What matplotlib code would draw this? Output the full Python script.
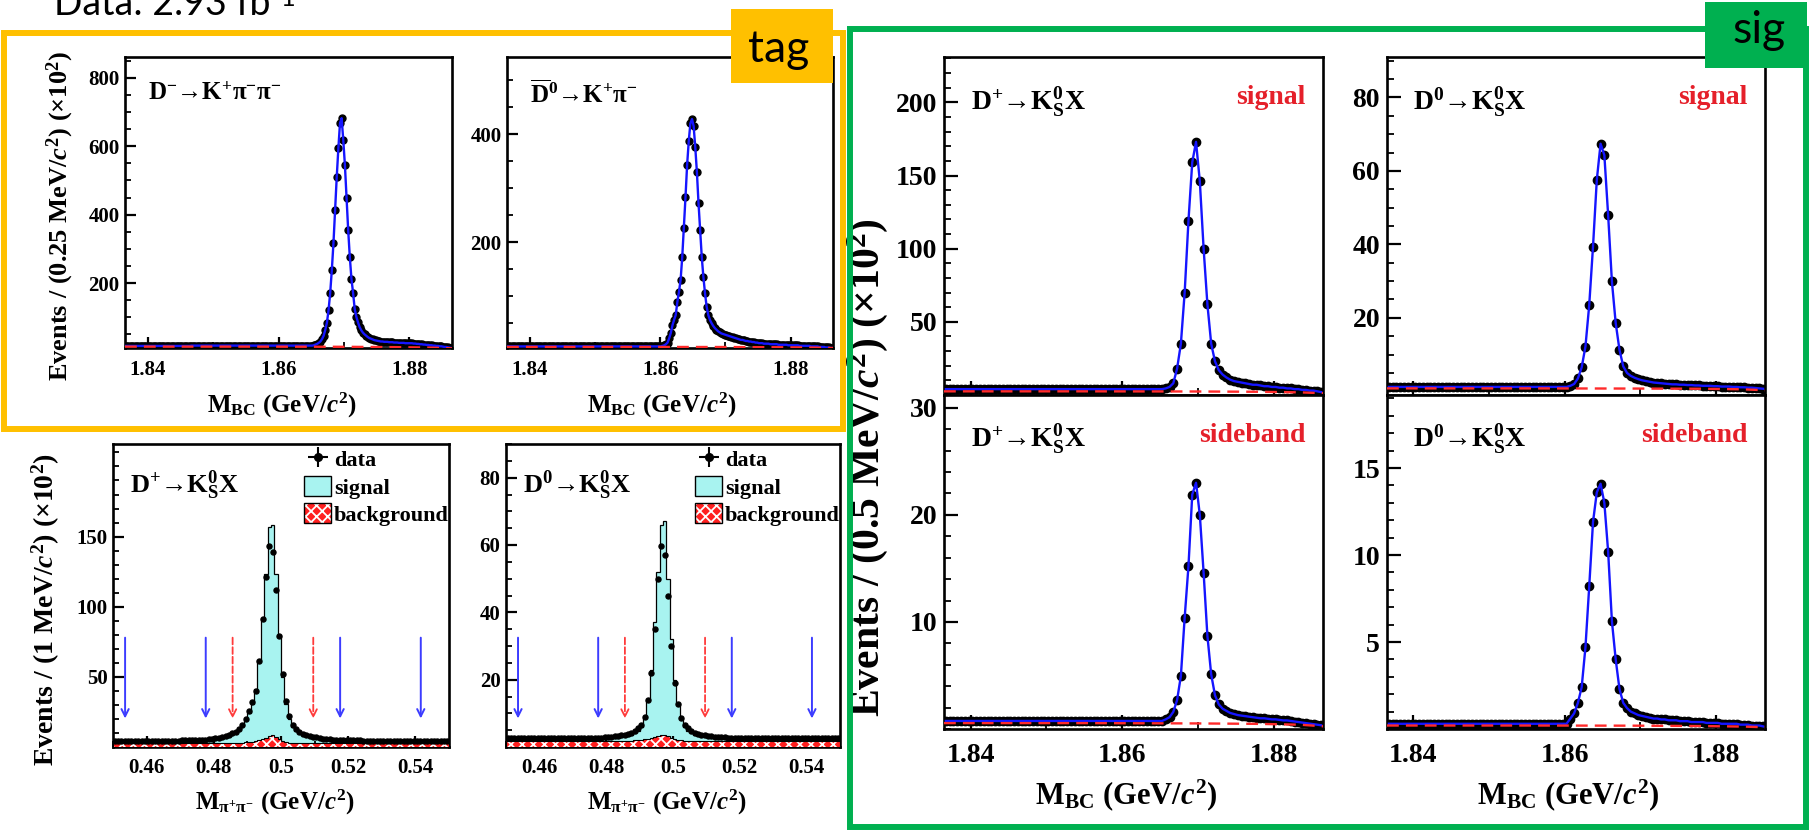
import numpy as np
import matplotlib
matplotlib.use("Agg")
import matplotlib.pyplot as plt
from matplotlib.patches import Rectangle, Patch
from matplotlib.lines import Line2D
from matplotlib.ticker import FixedLocator, MultipleLocator, FuncFormatter, NullFormatter
from matplotlib.legend_handler import HandlerTuple

# ---------------- data (values in units of 10^2 events) ----------------
MBC_RANGE = (1.8365, 1.8865)
TAG_BIN = 0.00025
SIG_BIN = 0.0005
MPP_RANGE = (0.45, 0.55)
MPP_BIN = 0.001

# tag side: D- -> K+ pi- pi-   (0.25 MeV bins)
TAG_DM = [
    16, 16, 16, 16, 16, 16, 16, 16, 16, 16, 16, 16, 16, 16, 16, 16, 16, 16, 16, 16,
    16, 16, 16, 16, 16, 16, 16, 16, 16, 16, 16, 16, 16, 16, 16, 16, 16, 16, 16, 16,
    17, 17, 17, 17, 17, 17, 17, 17, 17, 17, 17, 17, 17, 17, 17, 17, 17, 17, 17, 17,
    17, 17, 17, 17, 17, 17, 17, 17, 17, 17, 17, 17, 17, 17, 17, 17, 17, 17, 17, 17,
    17, 17, 17, 17, 17, 17, 17, 17, 17, 17, 17, 17, 17, 17, 17, 17, 17, 17, 17, 17,
    17, 17, 17, 17, 17, 17, 17, 17, 17, 17, 17, 17, 17, 17, 17, 18, 20, 22, 25, 29,
    36, 46, 63, 84, 121, 171, 238, 317, 413, 510, 594, 668, 682, 618, 545, 448, 355, 276, 212, 171,
    124, 101, 85, 71, 62, 55, 50, 46, 42, 39, 37, 35, 33, 32, 31, 30, 29, 29, 28, 28,
    28, 27, 27, 27, 26, 26, 26, 25, 25, 25, 25, 24, 24, 24, 24, 24, 23, 23, 22, 22,
    21, 21, 20, 20, 19, 19, 18, 18, 17, 17, 16, 16, 15, 15, 14, 13, 13, 12, 11, 10,
]
# tag side: anti-D0 -> K+ pi-   (0.25 MeV bins)
TAG_D0 = [
    7, 7, 7, 7, 7, 7, 7, 7, 7, 7, 7, 7, 7, 7, 7, 7, 7, 7, 7, 7,
    7, 7, 7, 7, 7, 7, 7, 7, 7, 7, 7, 7, 7, 7, 7, 7, 7, 7, 7, 7,
    7, 7, 7, 7, 7, 7, 7, 7, 7, 7, 7, 7, 7, 7, 7, 7, 7, 7, 7, 7,
    7, 7, 7, 7, 7, 7, 7, 7, 7, 7, 7, 7, 7, 7, 7, 7, 7, 7, 7, 7,
    7, 7, 7, 7, 7, 7, 7, 7, 7, 7, 7, 7, 7, 7, 7, 8, 9, 11, 14, 22,
    32, 46, 56, 65, 89, 108, 130, 172, 226, 283, 343, 387, 420, 428, 415, 376, 330, 272, 222, 172,
    135, 105, 80, 65, 56, 50, 45, 41, 38, 35, 33, 31, 30, 29, 28, 27, 26, 25, 24, 23,
    22, 21, 20, 19, 19, 18, 17, 17, 16, 16, 15, 15, 14, 14, 13, 13, 13, 12, 12, 12,
    12, 11, 11, 11, 11, 11, 10, 10, 10, 10, 10, 10, 9, 9, 9, 9, 9, 9, 9, 8,
    8, 8, 8, 8, 8, 8, 7, 7, 7, 7, 7, 6, 6, 6, 6, 5, 5, 5, 4, 4,
]
# signal side, K0S signal region (0.5 MeV bins)
SIG_DP = [
    4, 4, 4, 4, 4, 4, 4, 4, 4, 4, 4, 4, 4, 4, 4, 4, 4, 4, 4, 4,
    4, 4, 4, 4, 4, 4, 4, 4, 4, 4, 4, 4, 4, 4, 4, 4, 4, 4, 4, 4,
    4, 4, 4, 4, 4, 4, 4, 4, 4, 4, 4, 4, 4, 4, 4, 4, 4, 4, 4.5, 5.5,
    8, 18, 35, 70, 119, 159, 173, 146, 100, 62, 35, 23, 17, 14, 12, 10.5, 9.5, 9, 8.5, 8,
    7.5, 7, 7, 6.5, 6, 6, 5.5, 5.5, 5, 5, 4.5, 4.5, 4, 4, 3.5, 3.5, 3, 3, 2.5, 2,
]
SIG_D0 = [
    1.2, 1.2, 1.2, 1.2, 1.2, 1.2, 1.2, 1.2, 1.2, 1.2, 1.2, 1.2, 1.2, 1.2, 1.2, 1.2, 1.2, 1.2, 1.2, 1.2,
    1.2, 1.2, 1.2, 1.2, 1.2, 1.2, 1.2, 1.2, 1.2, 1.2, 1.2, 1.2, 1.2, 1.2, 1.2, 1.2, 1.2, 1.2, 1.2, 1.2,
    1.2, 1.2, 1.2, 1.2, 1.2, 1.2, 1.2, 1.2, 1.5, 2, 3.5, 6.5, 12.2, 23.5, 39.4, 57.5, 67.4, 64.3, 48, 29.9,
    18.6, 11.3, 6.8, 5, 4.2, 3.7, 3.3, 3, 2.8, 2.6, 2.4, 2.3, 2.2, 2.1, 2, 1.9, 1.9, 1.8, 1.8, 1.7,
    1.7, 1.6, 1.6, 1.5, 1.5, 1.5, 1.4, 1.4, 1.3, 1.3, 1.3, 1.2, 1.2, 1.1, 1.1, 1.0, 1.0, 0.9, 0.8, 0.7,
]
# signal side, K0S sideband region
SB_DP = [
    0.75, 0.75, 0.75, 0.75, 0.75, 0.75, 0.75, 0.75, 0.75, 0.75, 0.75, 0.75, 0.75, 0.75, 0.75, 0.75, 0.75, 0.75, 0.75, 0.75,
    0.75, 0.75, 0.75, 0.75, 0.75, 0.75, 0.75, 0.75, 0.75, 0.75, 0.75, 0.75, 0.75, 0.75, 0.75, 0.75, 0.75, 0.75, 0.75, 0.75,
    0.75, 0.75, 0.75, 0.75, 0.75, 0.75, 0.75, 0.75, 0.75, 0.75, 0.75, 0.75, 0.75, 0.75, 0.75, 0.75, 0.75, 0.75, 0.9, 1.1,
    1.6, 2.7, 4.95, 10.4, 15.2, 21.9, 23, 20, 14.6, 8.7, 5.1, 3.15, 2.3, 1.9, 1.7, 1.5, 1.4, 1.3, 1.25, 1.2,
    1.15, 1.1, 1.05, 1.0, 1.0, 0.95, 0.9, 0.9, 0.85, 0.8, 0.8, 0.75, 0.7, 0.65, 0.6, 0.55, 0.5, 0.45, 0.4, 0.35,
]
SB_D0 = [
    0.3, 0.3, 0.3, 0.3, 0.3, 0.3, 0.3, 0.3, 0.3, 0.3, 0.3, 0.3, 0.3, 0.3, 0.3, 0.3, 0.3, 0.3, 0.3, 0.3,
    0.3, 0.3, 0.3, 0.3, 0.3, 0.3, 0.3, 0.3, 0.3, 0.3, 0.3, 0.3, 0.3, 0.3, 0.3, 0.3, 0.3, 0.3, 0.3, 0.3,
    0.3, 0.3, 0.3, 0.3, 0.3, 0.3, 0.3, 0.3, 0.6, 0.9, 1.5, 2.4, 4.7, 8.2, 11.9, 13.6, 14.1, 13, 10.2, 6.2,
    4, 2.3, 1.5, 1.2, 1.0, 0.9, 0.8, 0.75, 0.7, 0.65, 0.6, 0.6, 0.55, 0.55, 0.5, 0.5, 0.5, 0.45, 0.45, 0.45,
    0.4, 0.4, 0.4, 0.4, 0.35, 0.35, 0.35, 0.35, 0.3, 0.3, 0.3, 0.3, 0.3, 0.25, 0.25, 0.25, 0.2, 0.2, 0.2, 0.15,
]
# background (dashed) curves of the M_BC fits
BG_X = [1.8365, 1.855, 1.870, 1.878, 1.8835, 1.8865]
BG_TAG_DM = [14, 14, 13.5, 12.5, 11, 9]
BG_TAG_D0 = [6, 6, 5.8, 5.4, 4.8, 4]
BG_SIG_DP = [2.5, 2.5, 2.4, 2.2, 1.8, 1.2]
BG_SIG_D0 = [0.8, 0.8, 0.75, 0.7, 0.55, 0.3]
BG_SB_DP = [0.55, 0.55, 0.52, 0.48, 0.4, 0.25]
BG_SB_D0 = [0.2, 0.2, 0.19, 0.17, 0.14, 0.1]

# M(pi+ pi-) distributions (1 MeV bins)
KS_DP_DATA = [
    4.6, 4.6, 4.6, 4.6, 4.6, 4.6, 4.6, 4.6, 4.6, 4.6, 4.6, 4.6, 4.6, 4.6, 4.6, 4.6, 4.6, 4.6, 4.6, 4.6,
    4.7, 4.7, 4.7, 4.8, 4.8, 4.9, 5.1, 5.3, 5.5, 5.8, 6.2, 6.7, 7.2, 7.8, 8.7, 9.7, 11, 13, 16, 20,
    26, 32, 40, 61, 91, 121, 143, 139, 112, 79, 52, 33, 22, 16, 13, 11, 9.5, 8.5, 7.8, 7.2,
    6.8, 6.4, 6, 5.7, 5.5, 5.3, 5.1, 5, 4.9, 4.8, 4.8, 4.7, 4.7, 4.7, 4.6, 4.6, 4.6, 4.6, 4.6, 4.6,
    4.6, 4.6, 4.6, 4.6, 4.6, 4.6, 4.6, 4.6, 4.6, 4.6, 4.6, 4.6, 4.6, 4.6, 4.6, 4.6, 4.6, 4.6, 4.6, 4.6,
]
KS_DP_SIG = [
    4.0, 4.0, 4.0, 4.0, 4.0, 4.0, 4.0, 4.0, 4.0, 4.0, 4.0, 4.0, 4.0, 4.0, 4.0, 4.0, 4.0, 4.0, 4.0, 4.0,
    4.1, 4.1, 4.1, 4.2, 4.2, 4.3, 4.5, 4.7, 4.9, 5.2, 5.6, 6.1, 6.6, 7.2, 8, 9, 10.5, 12.5, 15, 19,
    24, 31, 41, 62, 92, 123, 157, 158, 123, 80, 50, 31, 20, 14, 11.5, 10, 8.5, 7.6, 7, 6.5,
    6.1, 5.7, 5.4, 5.1, 4.9, 4.7, 4.5, 4.4, 4.3, 4.2, 4.2, 4.1, 4.1, 4.1, 4.0, 4.0, 4.0, 4.0, 4.0, 4.0,
    4.0, 4.0, 4.0, 4.0, 4.0, 4.0, 4.0, 4.0, 4.0, 4.0, 4.0, 4.0, 4.0, 4.0, 4.0, 4.0, 4.0, 4.0, 4.0, 4.0,
]
KS_DP_BG = [
    2.8, 2.8, 2.8, 2.8, 2.8, 2.8, 2.8, 2.8, 2.8, 2.8, 2.8, 2.8, 2.8, 2.8, 2.8, 2.8, 2.8, 2.8, 2.8, 2.8,
    2.8, 2.8, 2.8, 2.8, 2.8, 2.8, 2.8, 2.8, 2.8, 2.8, 2.8, 2.8, 2.8, 2.8, 2.8, 2.8, 2.9, 3.0, 3.2, 3.4,
    3.6, 3.9, 4.3, 4.8, 5.6, 6.6, 8, 8.8, 7.4, 5.6, 4.2, 3.5, 3.1, 3.0, 2.9, 2.8, 2.8, 2.8, 2.8, 2.8,
    2.8, 2.8, 2.8, 2.8, 2.8, 2.8, 2.8, 2.8, 2.8, 2.8, 2.8, 2.8, 2.8, 2.8, 2.8, 2.8, 2.8, 2.8, 2.8, 2.8,
    2.8, 2.8, 2.8, 2.8, 2.8, 2.8, 2.8, 2.8, 2.8, 2.8, 2.8, 2.8, 2.8, 2.8, 2.8, 2.8, 2.8, 2.8, 2.8, 2.8,
]
KS_D0_DATA = [
    2.7, 2.7, 2.7, 2.7, 2.7, 2.7, 2.7, 2.7, 2.7, 2.7, 2.7, 2.7, 2.7, 2.7, 2.7, 2.7, 2.7, 2.7, 2.7, 2.7,
    2.7, 2.7, 2.7, 2.7, 2.7, 2.7, 2.7, 2.8, 2.8, 2.9, 3, 3.1, 3.2, 3.3, 3.5, 3.7, 4, 4.3, 4.8, 5.5,
    6.5, 9, 14, 22, 35, 50, 59.7, 57, 45, 30, 19, 12.8, 8.5, 6.5, 5.5, 4.8, 4.3, 4, 3.7, 3.5,
    3.3, 3.2, 3.1, 3, 2.9, 2.9, 2.8, 2.8, 2.8, 2.8, 2.7, 2.7, 2.7, 2.7, 2.7, 2.7, 2.7, 2.7, 2.7, 2.7,
    2.7, 2.7, 2.7, 2.7, 2.7, 2.7, 2.7, 2.7, 2.7, 2.7, 2.7, 2.7, 2.7, 2.7, 2.7, 2.7, 2.7, 2.7, 2.7, 2.7,
]
KS_D0_SIG = [
    2.3, 2.3, 2.3, 2.3, 2.3, 2.3, 2.3, 2.3, 2.3, 2.3, 2.3, 2.3, 2.3, 2.3, 2.3, 2.3, 2.3, 2.3, 2.3, 2.3,
    2.3, 2.3, 2.3, 2.3, 2.3, 2.3, 2.3, 2.3, 2.4, 2.4, 2.5, 2.6, 2.7, 2.8, 3, 3.2, 3.4, 3.7, 4.1, 4.8,
    6, 8.5, 14, 23, 37, 52, 66, 67, 50, 32, 20, 13, 8.5, 6, 4.8, 4.1, 3.7, 3.4, 3.2, 3,
    2.9, 2.8, 2.7, 2.6, 2.5, 2.5, 2.4, 2.4, 2.4, 2.4, 2.3, 2.3, 2.3, 2.3, 2.3, 2.3, 2.3, 2.3, 2.3, 2.3,
    2.3, 2.3, 2.3, 2.3, 2.3, 2.3, 2.3, 2.3, 2.3, 2.3, 2.3, 2.3, 2.3, 2.3, 2.3, 2.3, 2.3, 2.3, 2.3, 2.3,
]
KS_D0_BG = [
    1.7, 1.7, 1.7, 1.7, 1.7, 1.7, 1.7, 1.7, 1.7, 1.7, 1.7, 1.7, 1.7, 1.7, 1.7, 1.7, 1.7, 1.7, 1.7, 1.7,
    1.7, 1.7, 1.7, 1.7, 1.7, 1.7, 1.7, 1.7, 1.7, 1.7, 1.7, 1.7, 1.7, 1.7, 1.7, 1.7, 1.8, 1.9, 2.0, 2.1,
    2.2, 2.3, 2.4, 2.6, 2.9, 3.2, 3.5, 3.6, 3.2, 2.7, 2.3, 2.1, 2.0, 1.9, 1.8, 1.7, 1.7, 1.7, 1.7, 1.7,
    1.7, 1.7, 1.7, 1.7, 1.7, 1.7, 1.7, 1.7, 1.7, 1.7, 1.7, 1.7, 1.7, 1.7, 1.7, 1.7, 1.7, 1.7, 1.7, 1.7,
    1.7, 1.7, 1.7, 1.7, 1.7, 1.7, 1.7, 1.7, 1.7, 1.7, 1.7, 1.7, 1.7, 1.7, 1.7, 1.7, 1.7, 1.7, 1.7, 1.7,
]
ARROW_BLUE = [0.4536, 0.4776, 0.5176, 0.5416]
ARROW_RED = [0.4856, 0.5096]

MBC_TICKS = [1.84, 1.86, 1.88]
MPP_TICKS = [0.46, 0.48, 0.50, 0.52, 0.54]

# ---------------- style ----------------
plt.rcParams.update({
    'font.family': ['Liberation Serif', 'DejaVu Serif'],
    'font.weight': 'bold',
    'mathtext.fontset': 'custom',
    'mathtext.rm': 'Liberation Serif:bold',
    'mathtext.bf': 'Liberation Serif:bold',
    'mathtext.it': 'Liberation Serif:italic',
    'mathtext.default': 'bf',
    'hatch.color': 'white',
    'hatch.linewidth': 1.3,
})

W, H = 1814, 831
fig = plt.figure(figsize=(W / 100, H / 100), dpi=100)
fig.patch.set_facecolor('white')

fmt_g = FuncFormatter(lambda v, p: f'{v:g}')


def add_ax(l, t, r, b, lab=15, xpad=9, ypad=4, big=False):
    ax = fig.add_axes([l / W, 1 - b / H, (r - l) / W, (b - t) / H])
    ax.tick_params(which='both', direction='in', top=False, right=False)
    ax.tick_params(which='major', length=10 if big else 8, width=1.6, labelsize=lab)
    ax.tick_params(which='minor', length=5 if big else 4, width=1.3)
    ax.tick_params(axis='x', pad=xpad)
    ax.tick_params(axis='y', pad=ypad)
    for s in ax.spines.values():
        s.set_linewidth(1.9)
    return ax


def mbc_panel(ax, vals, binw, bgy, ylim, yticks, yminor, ms, show_x=True):
    x = MBC_RANGE[0] + binw * (np.arange(len(vals)) + 0.5)
    ax.plot(x, vals, 'o', color='k', ms=ms, zorder=3)
    ax.plot(x, vals, '-', color='#1515ff', lw=1.7, zorder=4)
    ax.plot(BG_X, bgy, '--', color='#ff2a2a', lw=1.7, dashes=(5, 3), zorder=5)
    ax.set_xlim(MBC_RANGE)
    ax.set_ylim(ylim)
    ax.xaxis.set_major_locator(FixedLocator(MBC_TICKS))
    ax.xaxis.set_minor_locator(MultipleLocator(0.01))
    ax.xaxis.set_major_formatter(fmt_g)
    ax.yaxis.set_major_locator(FixedLocator(yticks))
    ax.yaxis.set_minor_locator(MultipleLocator(yminor))
    ax.yaxis.set_major_formatter(fmt_g)
    if not show_x:
        ax.xaxis.set_major_formatter(NullFormatter())


def ks_panel(ax, data, sig, bg, ylim, yticks, yminor):
    edges = MPP_RANGE[0] + MPP_BIN * np.arange(len(data) + 1)
    cen = MPP_RANGE[0] + MPP_BIN * (np.arange(len(data)) + 0.5)
    ax.stairs(sig, edges, fill=True, facecolor='#a8f3f0', zorder=1)
    ax.stairs(sig, edges, color='k', lw=0.9, zorder=2)
    ax.stairs(bg, edges, fill=True, facecolor='#ff2020', hatch='xxx', zorder=3)
    ax.stairs(bg, edges, color='k', lw=0.8, zorder=3.5)
    ax.errorbar(cen, data, xerr=MPP_BIN / 2, fmt='o', ms=3.6, color='k',
                elinewidth=1.3, capsize=0, zorder=6)
    for xa in ARROW_BLUE:
        ax.annotate('', xy=(xa, 0.085), xytext=(xa, 0.37),
                    xycoords=('data', 'axes fraction'),
                    arrowprops=dict(arrowstyle='->', color='#3c3cff', lw=1.4,
                                    mutation_scale=13), zorder=7)
    for xa in ARROW_RED:
        ax.annotate('', xy=(xa, 0.085), xytext=(xa, 0.37),
                    xycoords=('data', 'axes fraction'),
                    arrowprops=dict(arrowstyle='->', color='#ff3b3b', lw=1.3,
                                    linestyle='--', mutation_scale=13), zorder=7)
    ax.set_xlim(MPP_RANGE)
    ax.set_ylim(ylim)
    ax.xaxis.set_major_locator(FixedLocator(MPP_TICKS))
    ax.xaxis.set_minor_locator(MultipleLocator(0.01))
    ax.xaxis.set_major_formatter(fmt_g)
    ax.yaxis.set_major_locator(FixedLocator(yticks))
    ax.yaxis.set_minor_locator(MultipleLocator(yminor))
    ax.yaxis.set_major_formatter(fmt_g)
    h_data = (Line2D([], [], marker='+', ms=15, mew=1.5, color='k', ls='none'),
              Line2D([], [], marker='o', ms=5.5, color='k', ls='none'))
    h_sig = Patch(facecolor='#a8f3f0', edgecolor='k', lw=1)
    h_bg = (Patch(facecolor='#ff2020', hatch='xxx'),
            Patch(facecolor='none', edgecolor='k', lw=1))
    ax.legend([h_data, h_sig, h_bg], ['data', 'signal', 'background'],
              handler_map={tuple: HandlerTuple(ndivide=1)},
              loc='upper right', bbox_to_anchor=(1.0, 0.985), frameon=False,
              prop={'family': 'Liberation Serif', 'weight': 'bold', 'size': 16},
              handlelength=1.25, handleheight=1.0, handletextpad=0.12,
              labelspacing=0.22, borderaxespad=0.0, borderpad=0.0)


ARW = '\u2192'
XL_MBC = r'$M_{BC}\ (GeV/\mathit{c}^{2})$'
XL_MPP = r'$M_{\pi^{+}\pi^{-}}\ (GeV/\mathit{c}^{2})$'
T_DM = r'$D^{-}$' + ARW + r'$K^{+}\pi^{-}\pi^{-}$'
T_D0B = r'$\overline{D}^{0}$' + ARW + r'$K^{+}\pi^{-}$'
T_DPKS = r'$D^{+}$' + ARW + r'$K^{0}_{S}X$'
T_D0KS = r'$D^{0}$' + ARW + r'$K^{0}_{S}X$'

# ---- tag panels ----
a1 = add_ax(125, 57, 452, 348)
mbc_panel(a1, TAG_DM, TAG_BIN, BG_TAG_DM, (10, 861), [200, 400, 600, 800], 50, 5)
a1.text(0.07, 0.875, T_DM, transform=a1.transAxes, fontsize=18, ha='left', va='center')
a2 = add_ax(507, 57, 833, 348)
mbc_panel(a2, TAG_D0, TAG_BIN, BG_TAG_D0, (4, 543), [200, 400], 50, 5)
a2.text(0.07, 0.875, T_D0B, transform=a2.transAxes, fontsize=18, ha='left', va='center')

# ---- K0S mass panels ----
a3 = add_ax(113, 444, 449, 747, xpad=8)
ks_panel(a3, KS_DP_DATA, KS_DP_SIG, KS_DP_BG, (0, 216), [50, 100, 150], 10)
a3.text(0.05, 0.865, T_DPKS, transform=a3.transAxes, fontsize=19, ha='left', va='center')
a4 = add_ax(506, 444, 840, 747, xpad=8)
ks_panel(a4, KS_D0_DATA, KS_D0_SIG, KS_D0_BG, (0, 90), [20, 40, 60, 80], 5)
a4.text(0.05, 0.865, T_D0KS, transform=a4.transAxes, fontsize=19, ha='left', va='center')

# ---- signal side panels ----
a5 = add_ax(944, 57, 1323, 395, lab=20, xpad=10, ypad=5, big=True)
mbc_panel(a5, SIG_DP, SIG_BIN, BG_SIG_DP, (0, 231), [50, 100, 150, 200], 10, 6, show_x=False)
a6 = add_ax(1387, 57, 1765, 395, lab=20, xpad=10, ypad=5, big=True)
mbc_panel(a6, SIG_D0, SIG_BIN, BG_SIG_D0, (-1, 91), [20, 40, 60, 80], 5, 6, show_x=False)
a7 = add_ax(944, 395, 1323, 729, lab=20, xpad=10, ypad=5, big=True)
mbc_panel(a7, SB_DP, SIG_BIN, BG_SB_DP, (0, 31.2), [10, 20, 30], 2, 6)
a8 = add_ax(1387, 395, 1765, 729, lab=20, xpad=10, ypad=5, big=True)
mbc_panel(a8, SB_D0, SIG_BIN, BG_SB_D0, (0, 19.2), [5, 10, 15], 1, 6)

for ax, dec, tag in [(a5, T_DPKS, 'signal'), (a6, T_D0KS, 'signal'),
                     (a7, T_DPKS, 'sideband'), (a8, T_D0KS, 'sideband')]:
    ax.text(0.07, 0.867, dec, transform=ax.transAxes, fontsize=20, ha='left', va='center')
    ax.text(0.955, 0.88, tag, transform=ax.transAxes, fontsize=20, ha='right', va='center',
            color='#e5202a', fontweight='bold')

# ---- axis titles (figure coordinates in px) ----
def ftext(x, y, s, **kw):
    fig.text(x / W, 1 - y / H, s, **kw)

ftext(282, 405, XL_MBC, fontsize=18, ha='center', va='center')
ftext(662, 405, XL_MBC, fontsize=18, ha='center', va='center')
ftext(275, 802, XL_MPP, fontsize=18, ha='center', va='center')
ftext(667, 802, XL_MPP, fontsize=18, ha='center', va='center')
ftext(1126, 795, XL_MBC, fontsize=22, ha='center', va='center')
ftext(1568, 795, XL_MBC, fontsize=22, ha='center', va='center')
ftext(60, 216, r'$Events\ /\ (0.25\ MeV/\mathit{c}^{2})\ (\times10^{2})$', fontsize=19,
      rotation=90, ha='center', va='center')
ftext(46, 610, r'$Events\ /\ (1\ MeV/\mathit{c}^{2})\ (\times10^{2})$', fontsize=20,
      rotation=90, ha='center', va='center')
ftext(868, 468, r'$Events\ /\ (0.5\ MeV/\mathit{c}^{2})\ (\times10^{2})$', fontsize=30,
      rotation=90, ha='center', va='center')

# ---- slide decorations ----
def frect(l, t, r, b, **kw):
    p = Rectangle((l / W, 1 - b / H), (r - l) / W, (b - t) / H,
                  transform=fig.transFigure, **kw)
    fig.add_artist(p)
    return p

frect(4, 33, 843, 429, fill=False, edgecolor='#ffc000', lw=4.3, zorder=5)
frect(850, 29, 1806, 827, fill=False, edgecolor='#00b050', lw=4.3, zorder=5)
frect(731, 9, 833, 83, facecolor='#ffc000', edgecolor='none', zorder=6)
frect(1705, 2, 1807, 68, facecolor='#00b050', edgecolor='none', zorder=6)
fig.text(779 / W, 1 - 62 / H, 'tag', family='Lato', fontweight='normal', fontsize=32,
         ha='center', va='baseline', zorder=7)
fig.text(1759 / W, 1 - 43 / H, 'sig', family='Lato', fontweight='normal', fontsize=32,
         ha='center', va='baseline', zorder=7)
fig.text(54 / W, 1 - 15 / H, 'Data: 2.93 fb', family='Lato', fontweight='normal',
         fontsize=27, ha='left', va='baseline')
fig.text(272 / W, 1 - 6 / H, '-1', family='Lato', fontweight='normal',
         fontsize=18, ha='left', va='baseline')

fig.savefig('out.png', dpi=100)
